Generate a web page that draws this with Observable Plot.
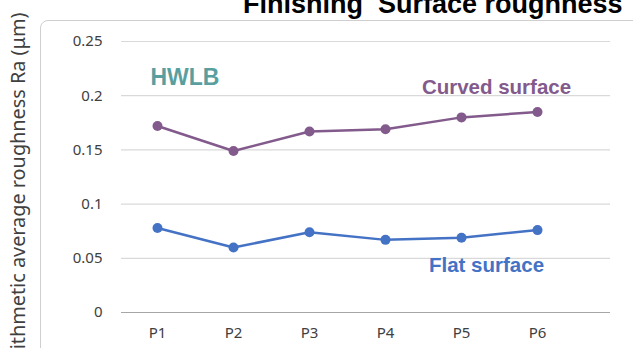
<!DOCTYPE html>
<html>
<head>
<meta charset="utf-8">
<script src="https://cdn.jsdelivr.net/npm/d3@7"></script>
<script src="https://cdn.jsdelivr.net/npm/@observablehq/plot@0.6"></script>
<style>
  html, body { margin: 0; padding: 0; background: #fff; overflow: hidden; }
  #wrap { position: relative; width: 633px; height: 348px; overflow: hidden; }
  #box { position: absolute; left: 40px; top: 20px; width: 640px; height: 400px;
         border: 1px solid #cfcfcf; border-radius: 8px; box-sizing: border-box; }
  #wrap svg { position: absolute; left: 0; top: 0; overflow: visible; }
</style>
</head>
<body>
<div id="wrap"><div id="box"></div></div>
<script>
const categories = ["P1", "P2", "P3", "P4", "P5", "P6"];
const curved = [0.172, 0.149, 0.167, 0.169, 0.180, 0.185];
const flat = [0.078, 0.060, 0.074, 0.067, 0.069, 0.076];
const yTicks = [0, 0.05, 0.1, 0.15, 0.2, 0.25];
const title = "Finishing  Surface roughness";
const yLabel = "Arithmetic average roughness Ra (μm)";

const curvedColor = "#835a8c";
const flatColor = "#4472c4";
const hwlbColor = "#5a9fa0";

const rows = [
  ...categories.map((c, i) => ({cat: c, v: curved[i], s: "Curved surface"})),
  ...categories.map((c, i) => ({cat: c, v: flat[i], s: "Flat surface"}))
];

const labelFont = "'Liberation Sans', Arial, sans-serif";

const chart = Plot.plot({
  width: 633,
  height: 348,
  marginTop: 41,
  marginBottom: 36,
  marginLeft: 121,
  marginRight: 23,
  style: {fontFamily: "'Noto Sans', sans-serif", fontSize: "15px", color: "#404040", background: "transparent", overflow: "visible"},
  x: {type: "point", domain: categories, range: [157, 537], padding: 0, label: null, tickSize: 0, tickPadding: 15},
  y: {domain: [0, 0.25], ticks: yTicks, tickFormat: d => String(d), tickSize: 0, tickPadding: 19, label: null},
  marks: [
    Plot.ruleY(yTicks.filter(d => d > 0), {stroke: "#d9d9d9", strokeWidth: 1.2}),
    Plot.ruleY([0], {stroke: "#a6a6a6", strokeWidth: 1.2}),
    Plot.line(rows, {x: "cat", y: "v", z: "s", stroke: d => d.s === "Curved surface" ? curvedColor : flatColor, strokeWidth: 2.5}),
    Plot.dot(rows, {x: "cat", y: "v", r: 5, fill: d => d.s === "Curved surface" ? curvedColor : flatColor, stroke: "none"}),
    Plot.text([{cat: "P1", v: 0.217, t: "HWLB"}], {x: "cat", y: "v", text: "t", fill: hwlbColor, textAnchor: "start", dx: -7,
      fontWeight: "bold", fontSize: 23, fontFamily: labelFont}),
    Plot.text([{cat: "P5", v: 0.2076, t: "Curved surface"}], {x: "cat", y: "v", text: "t", fill: curvedColor, textAnchor: "middle", dx: 35,
      fontWeight: "bold", fontSize: 20.5, fontFamily: labelFont}),
    Plot.text([{cat: "P5", v: 0.0434, t: "Flat surface"}], {x: "cat", y: "v", text: "t", fill: flatColor, textAnchor: "middle", dx: 25,
      fontWeight: "bold", fontSize: 20.5, fontFamily: labelFont}),
    Plot.text([title], {frameAnchor: "top-right", dx: 12, dy: -29, textAnchor: "end", lineAnchor: "bottom",
      fontSize: 27, fontWeight: "bold", fill: "#000", fontFamily: labelFont}),
    Plot.text([yLabel], {frameAnchor: "top-left", dx: -103, dy: -29, rotate: -90, textAnchor: "end", lineAnchor: "middle",
      fontSize: 19.85, fill: "#404040", fontFamily: "'Noto Sans', sans-serif"})
  ]
});
document.getElementById("wrap").appendChild(chart);
</script>
</body>
</html>
